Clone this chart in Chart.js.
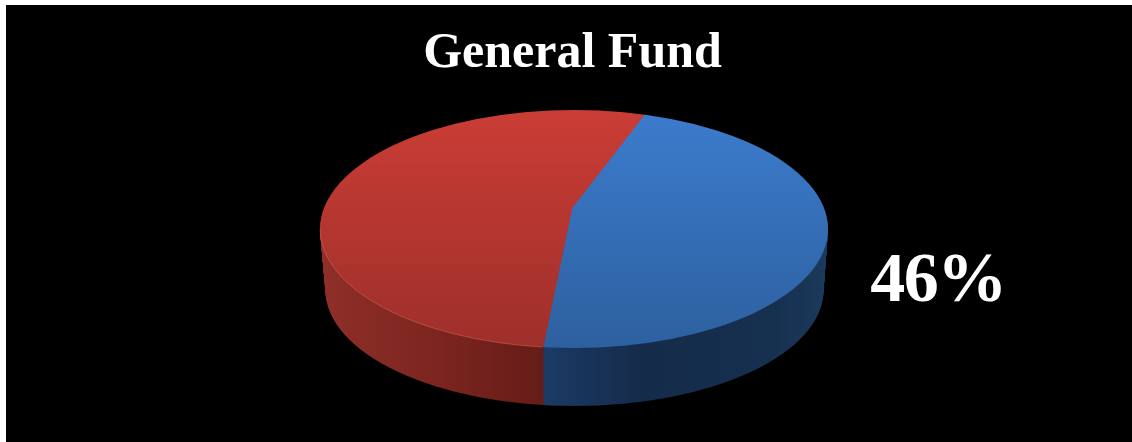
<!DOCTYPE html>
<html>
<head>
<meta charset="utf-8">
<title>General Fund</title>
<script src="https://cdn.jsdelivr.net/npm/chart.js@4"></script>
<style>
    html, body { margin: 0; padding: 0; background: #fff; overflow: hidden; }
    #pie { position: absolute; left: 6px; top: 5px; background: #000; }
</style>
</head>
<body>
<canvas id="pie" width="1126" height="437"></canvas>
<script>
const categories = ['General Fund', 'Other'];
const seriesValues = [46, 54];
const sliceColors = ['#3a74bf', '#b5362f'];

// tilted disc, in canvas pixels
const disc = { cx: 568, cy: 224, rx: 254, ry: 119 };
const apex = { x: 566, y: 203 };   // where the slices meet, sits behind the disc centre
const tilt = 0.47;
const depth = 58;

function ellipsePath(ctx, d) {
    ctx.beginPath();
    const shrink = d / depth;
    ctx.ellipse(disc.cx + shrink * 0.5, disc.cy + shrink * 61, disc.rx - shrink * 5, disc.ry - shrink * 3, 0, 0, Math.PI * 2);
}

function linear(ctx, x0, y0, x1, y1, stops) {
    const g = ctx.createLinearGradient(x0, y0, x1, y1);
    stops.forEach(s => g.addColorStop(s[0], s[1]));
    return g;
}

// one layer of the disc: the slices stretched flat and clipped to the rim
function drawLayer(chart, d, fills) {
    const ctx = chart.ctx;
    const arcs = chart.getDatasetMeta(0).data;
    ctx.save();
    ellipsePath(ctx, d);
    ctx.clip();
    ctx.translate(apex.x, apex.y + d);
    ctx.scale(1, tilt);
    ctx.translate(-arcs[0].x, -arcs[0].y);
    arcs.forEach((arc, i) => {
        const opts = arc.options;
        arc.options = { ...opts, backgroundColor: fills[i], borderColor: fills[i], borderWidth: 1 };
        arc.draw(ctx);
        arc.options = opts;
    });
    ctx.restore();
}

const pie3d = {
    id: 'pie3d',
    beforeDatasetsDraw(chart) {
        const ctx = chart.ctx;
        const arc = chart.getDatasetMeta(0).data[0];
        const toX = x => arc.x + (x - apex.x);
        const toY = y => arc.y + (y - apex.y) / tilt;

        // side wall shades run left to right
        const wallFills = [
            linear(ctx, toX(538), 0, toX(823), 0, [[0, '#1b3a66'], [0.35, '#152b4a'], [0.8, '#16304f'], [1, '#1c3a5c']]),
            linear(ctx, toX(314), 0, toX(538), 0, [[0, '#8f2f29'], [0.5, '#7e2520'], [1, '#651c17']])
        ];
        for (let d = depth; d > 0; d--) {
            drawLayer(chart, d, wallFills);
        }

        // top face gets darker towards the viewer
        const topFills = [
            linear(ctx, 0, toY(105), 0, toY(343), [[0, '#3c7ccd'], [1, '#2d609f']]),
            linear(ctx, 0, toY(105), 0, toY(343), [[0, '#ca3d35'], [1, '#9e2f2a']])
        ];
        drawLayer(chart, 0, topFills);

        // thin highlight along the front of the red slice
        ctx.save();
        ctx.beginPath();
        ctx.ellipse(disc.cx, disc.cy, disc.rx, disc.ry, 0, Math.PI * 0.54, Math.PI);
        ctx.strokeStyle = 'rgba(232,120,105,0.4)';
        ctx.lineWidth = 1;
        ctx.stroke();
        ctx.restore();
        return false;
    },
    afterDraw(chart) {
        const ctx = chart.ctx;
        ctx.save();
        ctx.fillStyle = '#fff';
        ctx.font = 'bold 70px "Liberation Serif"';
        ctx.letterSpacing = '-1.5px';
        ctx.textAlign = 'center';
        ctx.textBaseline = 'alphabetic';
        ctx.fillText(seriesValues[0] + '%', 932, 296);
        ctx.restore();
    }
};

new Chart(document.getElementById('pie'), {
    type: 'pie',
    data: {
        labels: categories,
        datasets: [{
            data: seriesValues,
            backgroundColor: sliceColors,
            borderWidth: 0
        }]
    },
    options: {
        responsive: false,
        animation: false,
        rotation: 20,
        radius: 340,
        layout: { padding: { left: 7 } },
        plugins: {
            legend: { display: false },
            tooltip: { enabled: false },
            title: {
                display: true,
                text: 'General Fund',
                color: '#fff',
                font: { family: '"Liberation Serif"', size: 50, weight: 'bold' },
                padding: { top: 19, bottom: 10 }
            }
        }
    },
    plugins: [pie3d]
});
</script>
</body>
</html>
